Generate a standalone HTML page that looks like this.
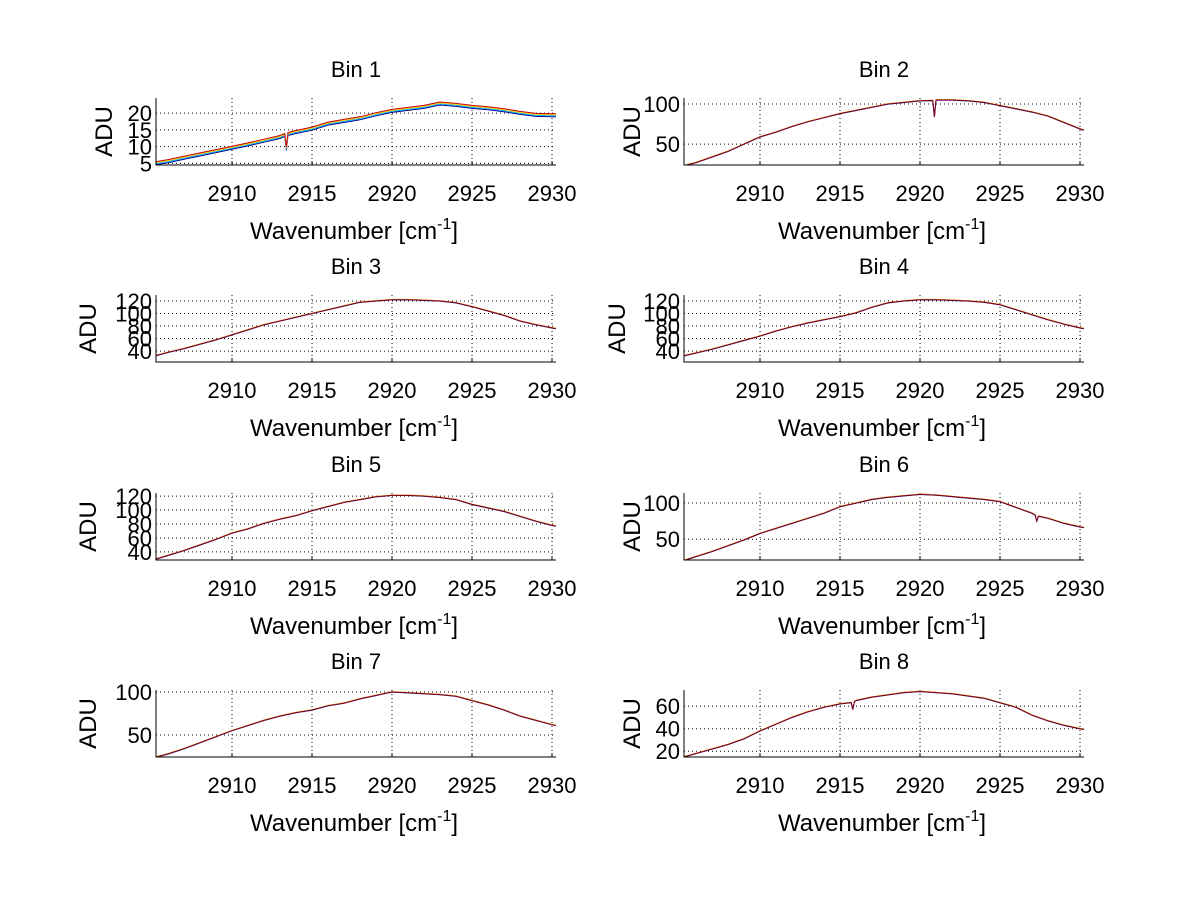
<!DOCTYPE html>
<html><head><meta charset="utf-8"><style>
body{margin:0;background:#fff;}
svg text{font-family:"Liberation Sans",sans-serif;fill:#000;}
</style></head><body>
<svg id="fig" width="1200" height="901" xmlns="http://www.w3.org/2000/svg">
<defs></defs>
</svg>
<script>
const wn = [2905,2906,2907,2908,2909,2910,2911,2912,2913,2914,2915,2916,2917,2918,2919,2920,2921,2922,2923,2924,2925,2926,2927,2928,2929,2930,2930.5];
const bin1 = [5,5.8,6.8,7.8,8.8,9.8,10.8,11.9,13,14.5,15.5,17,17.8,18.6,19.8,20.8,21.4,22,23,22.6,22,21.6,21,20.2,19.6,19.5,19.5];
const bin2 = [22,27,34,41,50,59,65,72,78,83,88,92,96,100,102,104,105,105,104,102,98,94,90,85,77,69,66];
const bin3 = [31,38,44,51,58,66,74,82,88,94,100,106,112,118,120,122,122,121,120,117,111,104,97,88,82,77,75];
const bin4 = [31,37,43,50,57,64,72,79,85,90,95,101,110,117,120,122,122,121,120,118,114,106,98,90,83,77,75];
const bin5 = [28,35,42,50,58,67,73,81,87,92,99,105,111,115,119,121,121,120,118,115,108,103,98,91,84,78,76];
const bin6 = [19,26,33,41,49,58,65,72,79,86,95,100,105,108,110,112,111,109,107,105,102,94,86,79,72,67,65];
const bin7 = [23,28,34,41,48,55,61,67,72,76,79,84,87,92,96,100,99,98,97,95,90,85,79,72,67,62,60];
const bin8 = [14,18,22,26,31,38,44,50,55,59,62,65,68,70,72,73,72,71,69,67,63,59,52,47,43,40,39];
const dips = [[2913.4,9.5],[2920.9,84],null,null,null,[2927.3,75],null,[2915.8,57]];
const titles = ["Bin 1","Bin 2","Bin 3","Bin 4","Bin 5","Bin 6","Bin 7","Bin 8"];
const ylims = [[4.5,24.5],[24,107.5],[22.6,129.5],[22.6,129.5],[28.4,124.4],[21.3,113.9],[24.4,102.3],[14.9,74.3]];
const yticks = [[5,10,15,20],[50,100],[40,60,80,100,120],[40,60,80,100,120],[40,60,80,100,120],[50,100],[50,100],[20,40,60]];
const xticks = [2910,2915,2920,2925,2930];
const series = [bin1,bin2,bin3,bin4,bin5,bin6,bin7,bin8];
const ylabelX = [104,632,88,617,88,632,88,632];

const NS="http://www.w3.org/2000/svg";
const svg=document.getElementById('fig');
function mk(tag,attrs,parent){const e=document.createElementNS(NS,tag);for(const k in attrs)e.setAttribute(k,attrs[k]);(parent||svg).appendChild(e);return e;}
const lefts=[156,684], tops=[98,295,493,690], W=400, H=67;
const XMIN=2905.25, XMAX=2930.25;
series.forEach((data,i)=>{
  const x0=lefts[i%2], y0=tops[Math.floor(i/2)];
  const [ymin,ymax]=ylims[i];
  const sx=v=>x0+(v-XMIN)/(XMAX-XMIN)*W;
  const sy=v=>y0+H-(v-ymin)/(ymax-ymin)*H;
  const g=mk('g',{});
  
  
  const cp=mk('clipPath',{id:'cp'+i},svg.querySelector('defs'));
  mk('rect',{x:x0,y:y0,width:W,height:H},cp);
  xticks.forEach(t=>{
    const l=mk('line',{x1:sx(t),x2:sx(t),y1:y0,y2:y0+H,stroke:'#000','stroke-width':1,'stroke-dasharray':'1,3'},g);
    
    
    mk('line',{x1:sx(t),x2:sx(t),y1:y0+H,y2:y0+H-4,stroke:'#000'},g);
    const tx=mk('text',{x:sx(t),y:y0+H+36,'text-anchor':'middle','font-size':22},g);
    tx.textContent=t;
    
    
  });
  yticks[i].forEach(t=>{
    const l=mk('line',{x1:x0,x2:x0+W,y1:sy(t),y2:sy(t),stroke:'#000','stroke-width':1,'stroke-dasharray':'1,3'},g);
    
    
    const tx=mk('text',{x:x0-4,y:sy(t)+8,'text-anchor':'end','font-size':22},g);
    tx.textContent=t;
    
    
  });
  const cols = i===0 ? [['#00008f',-0.6],['#00b0ff',-0.3],['#ffd000',0.0],['#c00000',0.3]] : [['#ff4000',0.05],['#ffb000',0.1],['#1030c0',-0.05],['#800020',0]];
  const scale=(ymax-ymin)/20;
  cols.forEach(([c,off],k)=>{
    let pts=[];
    wn.forEach((w,j)=>{
      pts.push([w,data[j]+off*scale]);
      if(dips[i] && w<dips[i][0] && wn[j+1]>dips[i][0]){pts.push([dips[i][0]-0.1,(data[j]*0.6+data[j+1]*0.4)+off*scale]);pts.push([dips[i][0],dips[i][1]+off*scale]);pts.push([dips[i][0]+0.1,(data[j]*0.4+data[j+1]*0.6)+off*scale]);}
    });
    const p=mk('polyline',{points:pts.map(q=>sx(q[0]).toFixed(1)+','+sy(q[1]).toFixed(1)).join(' '),fill:'none',stroke:c,'stroke-width':1,'clip-path':'url(#cp'+i+')'},g);
    
    
  });
  const ax=mk('path',{d:`M${x0},${y0}V${y0+H}H${x0+W}`,fill:'none',stroke:'#000','stroke-width':1},g);
  
  
  const ti=mk('text',{x:x0+W/2,y:y0-21,'text-anchor':'middle','font-size':22},g);
  ti.textContent=titles[i];
  
  
  const xl=mk('text',{x:x0+W/2-2,y:y0+H+74,'text-anchor':'middle','font-size':24},g);
  xl.innerHTML='Wavenumber [cm<tspan dy="-10" font-size="16">-1</tspan><tspan dy="10">]</tspan>';
  
  
  const lx=ylabelX[i]+8;
  const yl=mk('text',{x:lx,y:y0+H/2,'text-anchor':'middle','font-size':24,transform:`rotate(-90 ${lx} ${y0+H/2})`},g);
  yl.textContent='ADU';
  
  
});
</script>
</body></html>
